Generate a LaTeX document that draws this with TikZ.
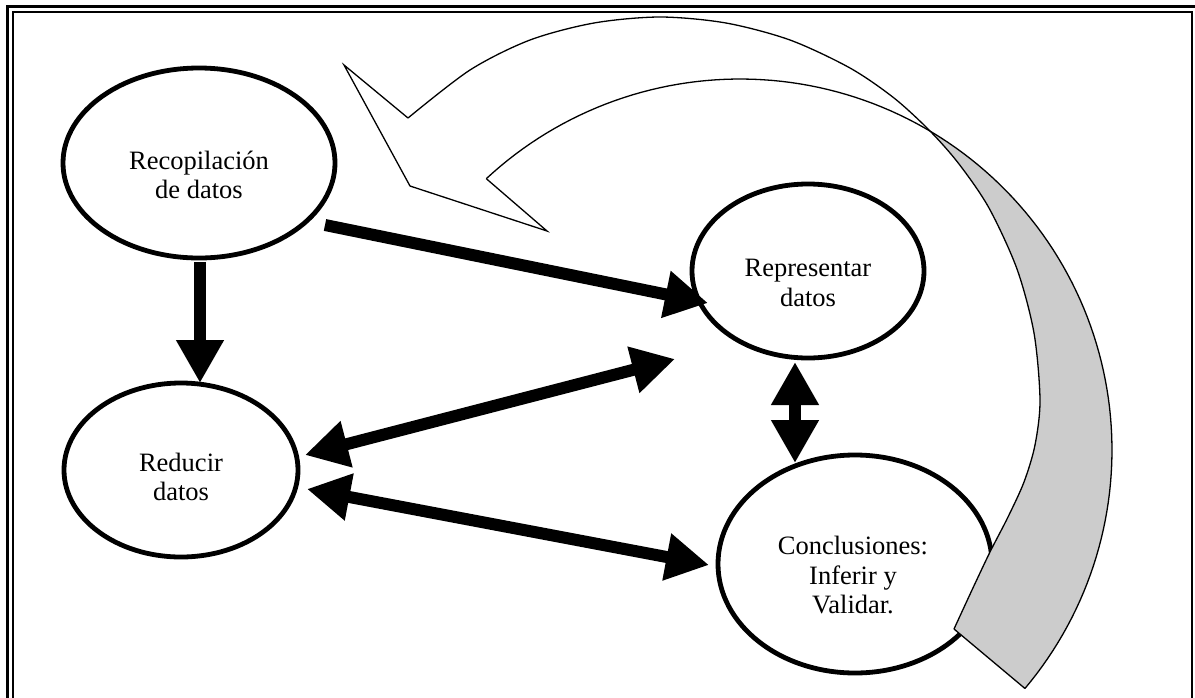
\documentclass[tikz,border=0pt]{standalone}
\usepackage{fontspec}
\setmainfont{Liberation Serif}
\usetikzlibrary{shapes.geometric,arrows.meta}
\definecolor{bandgray}{RGB}{204,204,204}
\begin{document}
\begin{tikzpicture}[x=1pt,y=-1pt,
  stage/.style={draw, ellipse, line width=4.8pt, inner sep=0pt},
  lbl/.style={align=center, font=\fontsize{26.5}{29.5}\selectfont, inner sep=0pt},
  fat/.style={line width=12pt, -{Triangle[length=43pt,width=45pt]}},
  fatboth/.style={line width=12pt, {Triangle[length=43pt,width=45pt]}-{Triangle[length=43pt,width=45pt]}},
  band/.style={line width=1.3pt, line join=miter}
]
\useasboundingbox (0,0) rectangle (1195,697);
\clip (0,0) rectangle (1195,697);
\fill[white] (0,0) rectangle (1195,697);

% double frame
\draw[line width=2.5pt] (7.5,720) -- (7.5,6.3) -- (1196.5,6.3) -- (1196.5,720);
\draw[line width=2pt] (13,720) -- (13,12.2) -- (1191.8,12.2) -- (1191.8,720);

% stages
\node[stage, minimum width=272pt, minimum height=190pt] (rec) at (199,163) {};
\node[stage, minimum width=234pt, minimum height=174pt] (red) at (181,470) {};
\node[stage, minimum width=232pt, minimum height=174pt] (rep) at (808,271) {};
\node[stage, minimum width=274pt, minimum height=218pt] (con) at (855,564) {};

\node[lbl] (recT) at (199,175) {Recopilación\\de datos};
\node[lbl] (redT) at (181,477) {Reducir\\datos};
\node[lbl] (repT) at (808,283) {Representar\\datos};
\node[lbl] (conT) at (853,575) {Conclusiones:\\Inferir y\\Validar.};

% connector end points
\coordinate (recE) at (325,225);
\coordinate (repW) at (708,303);
\coordinate (recS) at (200,262);
\coordinate (redN) at (200,383);
\coordinate (redE1) at (305,455);
\coordinate (repSW) at (675,359);
\coordinate (redE2) at (307,489);
\coordinate (conW) at (709,565);
\coordinate (repS) at (795,362);
\coordinate (conN) at (795,463);

\draw[fat] (recE) -- (repW);
\draw[fat] (recS) -- (redN);
\draw[fatboth] (redE1) -- (repSW);
\draw[fatboth] (redE2) -- (conW);
\draw[fatboth] (repS) -- (conN);

% curved return arrow: one edge is a smooth curve through these points,
% the other is an elliptic arc centred at (740,450)
\coordinate (tip) at (344,65);
\coordinate (notchA) at (408,118);
\coordinate (barbB) at (410,186);
\coordinate (barbC) at (547,231);
\coordinate (notchD) at ({740+372*cos(133)},{450-371*sin(133)});
\coordinate (capA) at (954,629);
\coordinate (capB) at ({740+372*cos(-40)},{450-371*sin(-40)});

% white front face
\fill[white] plot[smooth] coordinates {(408,118) (470,70) (530,40) (594,23) (660,17) (726,23) (790,40) (850,68) (894,98) (930,131)}
  -- plot[domain=59.28:133, samples=50, variable=\t] ({740+372*cos(\t)},{450-371*sin(\t)})
  -- (barbC) -- (barbB) -- (tip) -- cycle;
% grey back face
\fill[bandgray] plot[smooth] coordinates {(930,131) (959,164) (989,208) (1017,269) (1034,333) (1040,400) (1035,445) (1024,482) (1008,517) (990,552) (972,590) (954,629)}
  -- plot[domain=-40:59.28, samples=70, variable=\t] ({740+372*cos(\t)},{450-371*sin(\t)})
  -- cycle;
% outlines
\draw[band] plot[smooth] coordinates {(408,118) (470,70) (530,40) (594,23) (660,17) (726,23) (790,40) (850,68) (894,98) (930,131) (959,164) (989,208) (1017,269) (1034,333) (1040,400) (1035,445) (1024,482) (1008,517) (990,552) (972,590) (954,629)};
\draw[band] plot[domain=133:-40, samples=120, variable=\t] ({740+372*cos(\t)},{450-371*sin(\t)});
\draw[band] (notchD) -- (barbC) -- (barbB) -- (tip) -- (notchA);
\draw[band] (capA) -- (capB);
\end{tikzpicture}
\end{document}
